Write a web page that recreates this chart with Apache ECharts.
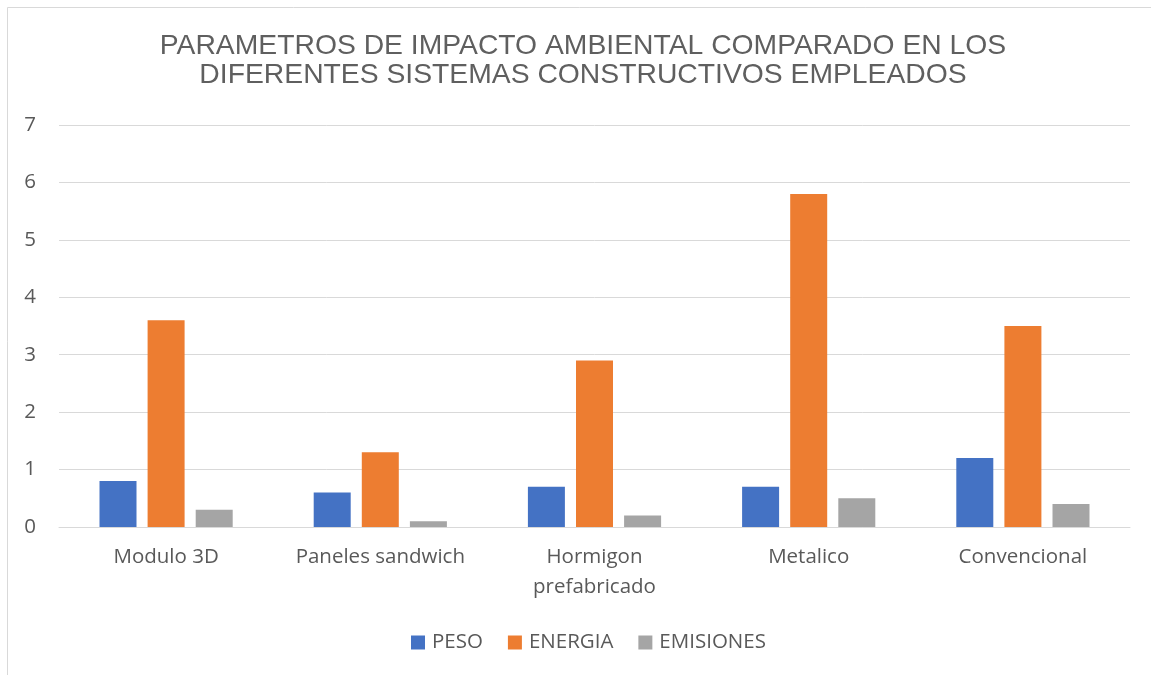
<!DOCTYPE html>
<html>
<head>
<meta charset="utf-8">
<style>
  html, body { margin: 0; padding: 0; background: #fff; }
  #chart { width: 1151px; height: 675px; }
</style>
<script src="https://cdn.jsdelivr.net/npm/echarts@6/dist/echarts.min.js"></script>
</head>
<body>
<div id="chart"></div>
<script>
// Sistemas constructivos comparados
const categories = ['Modulo 3D', 'Paneles sandwich', 'Hormigon\nprefabricado', 'Metalico', 'Convencional'];
const peso = [0.8, 0.6, 0.7, 0.7, 1.2];
const energia = [3.6, 1.3, 2.9, 5.8, 3.5];
const emisiones = [0.3, 0.1, 0.2, 0.5, 0.4];
const seriesNames = ['PESO', 'ENERGIA', 'EMISIONES'];
const colors = ['#4472C4', '#ED7D31', '#A5A5A5'];

const chart = echarts.init(document.getElementById('chart'));
const textColor = '#595959';
const labelFont = 'Open Sans';

const barSeries = [peso, energia, emisiones].map((values, i) => ({
  name: seriesNames[i],
  type: 'bar',
  data: values,
  barWidth: 37,
  barGap: '30%',
  itemStyle: { color: colors[i] }
}));

chart.setOption({
  backgroundColor: '#fff',
  animation: false,
  color: colors,
  graphic: [{
    type: 'rect',
    shape: { x: 7.5, y: 7.5, width: 1200, height: 700 },
    style: { fill: 'none', stroke: '#D9D9D9', lineWidth: 1 },
    silent: true
  }],
  title: {
    text: 'PARAMETROS DE IMPACTO AMBIENTAL COMPARADO EN LOS\nDIFERENTES SISTEMAS CONSTRUCTIVOS EMPLEADOS',
    left: 578,
    textAlign: 'center',
    top: 27,
    textStyle: {
      fontFamily: 'Liberation Sans',
      fontWeight: 'normal',
      fontSize: 28.3,
      lineHeight: 29,
      color: '#5f5f5f'
    }
  },
  legend: {
    top: 632,
    left: 411,
    padding: 0,
    itemWidth: 14,
    itemHeight: 14,
    itemGap: 25,
    icon: 'rect',
    textStyle: { fontFamily: labelFont, fontSize: 20.5, color: textColor, padding: [0, 0, 0, 2] },
    data: seriesNames
  },
  grid: { left: 59, right: 21, top: 125, bottom: 148, containLabel: false },
  xAxis: {
    type: 'category',
    data: categories,
    axisLine: { show: true, lineStyle: { color: '#D9D9D9', width: 1 } },
    axisTick: { show: false },
    axisLabel: {
      fontFamily: labelFont,
      fontSize: 20.5,
      color: textColor,
      lineHeight: 30,
      margin: 15,
      interval: 0
    }
  },
  yAxis: {
    type: 'value',
    min: 0,
    max: 7,
    interval: 1,
    axisLine: { show: false },
    axisTick: { show: false },
    splitLine: { lineStyle: { color: '#D9D9D9', width: 1 } },
    axisLabel: {
      fontFamily: labelFont,
      fontSize: 20.5,
      color: textColor,
      margin: 23
    }
  },
  series: barSeries
});
</script>
</body>
</html>
